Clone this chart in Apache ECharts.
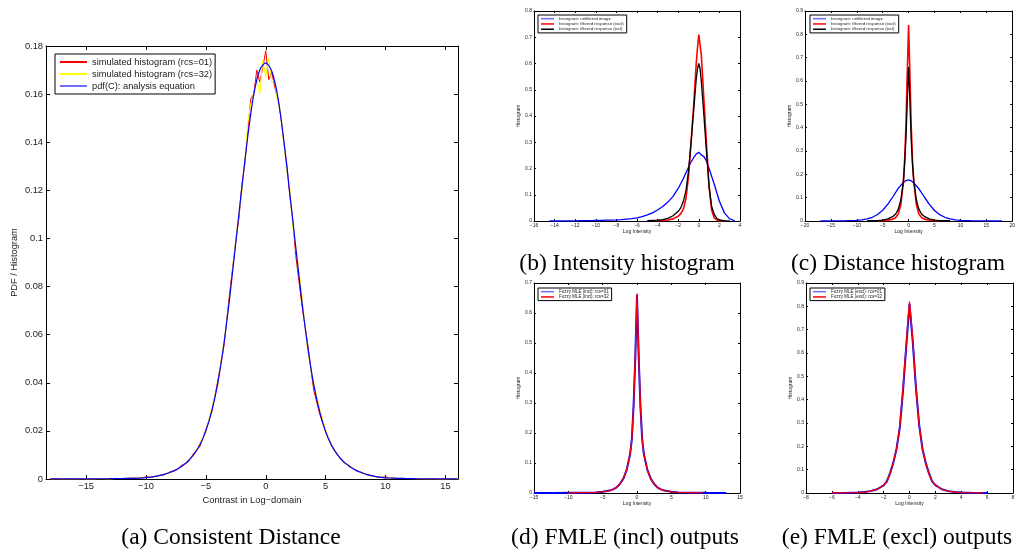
<!DOCTYPE html>
<html><head><meta charset="utf-8">
<script src="https://cdn.jsdelivr.net/npm/echarts@6/dist/echarts.min.js"></script>
<style>html,body{margin:0;padding:0;background:#fff}#c{width:1018px;height:552px}</style>
</head><body><div id="c"></div><script>
// ---------- (a) Consistent Distance ----------
const xA_hist = [-18,-17.5,-17,-16.5,-16,-15.5,-15,-14.5,-14,-13.5,-13,-12.5,-12,-11.5,-11,-10.5,-10,-9.5,-9,-8.5,-8,-7.5,-7,-6.5,-6,-5.5,-5,-4.5,-4,-3.5,-3,-2.5,
-2.25,-2,-1.75,-1.5,-1.25,-1,-0.75,-0.5,-0.25,0,0.25,0.5,0.75,1,1.25,1.5,1.75,2,2.25,
2.5,3,3.5,4,4.5,5,5.5,6,6.5,7,7.5,8,8.5,9,9.5,10,10.5,11,11.5,12,12.5,13,13.5,14,14.5,15,15.5,16];
const yA_rcs01 = [0,0,0,0.0001,0,0,0.0001,0,0.0002,0,0.0001,0.0002,
0.0001,0.0003,0.0004,0.0003,0.0009,0.0008,0.0014,0.0017,0.0030,0.0036,0.0058,0.0070,0.0108,0.0135,0.0205,0.0280,0.0410,0.0550,0.0780,0.0990,
0.108,0.122,0.131,0.145,0.158,0.160,0.170,0.165,0.171,0.178,0.166,0.169,0.163,0.158,0.151,0.140,0.131,0.118,0.108,
0.093,0.073,0.056,0.037,0.027,0.0195,0.0135,0.0098,0.0068,0.0055,0.0035,0.0028,0.0016,0.0012,0.0006,0.0009,0.0003,0.0002,0.0003,0.0001,0.0002,0,0.0001,0,0,0.0001,0,0];
const yA_rcs32 = [0,0.0001,0,0,0,0.0001,0,0,0.0001,0.0001,0,0.0002,
0.0002,0.0002,0.0003,0.0005,0.0006,0.0010,0.0012,0.0020,0.0025,0.0040,0.0050,0.0078,0.0098,0.0150,0.0195,0.0300,0.0390,0.0570,0.0750,0.1000,
0.110,0.119,0.133,0.148,0.156,0.160,0.166,0.160,0.174,0.167,0.175,0.165,0.166,0.156,0.153,0.140,0.128,0.121,0.105,
0.097,0.077,0.053,0.040,0.029,0.0205,0.0140,0.0102,0.0070,0.0050,0.0039,0.0024,0.0019,0.0011,0.0009,0.0004,0.0005,0.0002,0.0002,0.0002,0.0001,0.0001,0,0.0001,0,0,0.0001,0];
const xA_pdf = [-18,-17.5,-17,-16.5,-16,-15.5,-15,-14.5,-14,-13.5,-13,-12.5,-12,-11.5,-11,-10.5,-10,-9.5,-9,-8.5,-8,-7.5,-7,-6.5,-6,-5.5,-5,-4.5,-4,-3.5,-3,-2.5,-2,-1.5,-1,-0.5,0,0.5,1,1.5,2,2.5,3,3.5,4,4.5,5,5.5,6,6.5,7,7.5,8,8.5,9,9.5,10,10.5,11,11.5,12,12.5,13,13.5,14,14.5,15,15.5,16];
const yA_pdf = [0.00003,0.00003,0.00004,0.00004,0.00005,0.00006,0.00007,0.00008,0.0001,0.0001,0.00012,0.00015,
0.0002,0.00025,0.0003,0.0004,0.0006,0.0009,0.0013,0.0019,0.0027,0.0038,0.0053,0.0074,0.0102,0.0142,0.0200,0.0285,0.0400,0.0560,0.0760,0.0985,0.1210,0.1425,0.1600,0.1700,0.1730,
0.1695,0.1590,0.1410,0.1190,0.0965,0.0745,0.0550,0.0393,0.0280,0.0197,0.0140,0.0100,0.0072,0.0052,0.0037,0.0026,0.0018,0.0012,0.0008,0.0005,0.0004,0.0003,0.00022,0.00016,0.00012,0.0001,0.00008,0.00006,0.00005,0.00004,0.00003,0.00003];
const ticksA_x = [-15,-10,-5,0,5,10,15];
const namesA = ['simulated histogram (rcs=01)','simulated histogram (rcs=32)','pdf(C): analysis equation'];

// ---------- (b) Intensity histogram ----------
const xB_unf = [-14.5,-14,-13.5,-13,-12.5,-12,-11.5,-11,-10.5,-10,-9.5,-9,-8.5,-8,-7.5,-7,-6.5,-6,-5.5,-5,-4.5,-4,-3.5,-3,-2.5,-2,-1.5,-1,-0.75,-0.5,-0.25,0,0.25,0.5,0.75,1,1.5,2,2.5,3,3.5];
const yB_unf = [0,0,0,0.0005,0,0.0005,0.001,0.001,0.0015,0.002,0.002,0.003,0.0035,0.004,0.005,0.007,0.009,0.012,0.017,0.023,0.031,0.042,0.055,0.072,0.094,0.124,0.162,0.205,0.225,0.241,0.255,0.262,0.252,0.245,0.228,0.200,0.140,0.075,0.030,0.008,0.001];
const xB_excl = [-4,-3.5,-3,-2.5,-2,-1.75,-1.5,-1.25,-1,-0.75,-0.5,-0.25,-0.125,0,0.125,0.25,0.5,0.75,1,1.25,1.5,1.75,2,2.5];
const yB_excl = [0.001,0.002,0.004,0.008,0.018,0.028,0.045,0.085,0.17,0.30,0.44,0.60,0.66,0.71,0.67,0.63,0.46,0.29,0.13,0.04,0.012,0.004,0.001,0];
const xB_incl = [-5,-4.5,-4,-3.5,-3,-2.5,-2,-1.75,-1.5,-1.25,-1,-0.75,-0.5,-0.25,-0.125,0,0.125,0.25,0.5,0.75,1,1.25,1.5,1.75,2,2.5,3];
const yB_incl = [0.001,0.002,0.003,0.005,0.01,0.02,0.037,0.05,0.075,0.115,0.19,0.30,0.42,0.54,0.58,0.60,0.58,0.53,0.40,0.26,0.13,0.055,0.025,0.01,0.004,0.001,0];
const namesBC = ['histogram: unfiltered image','histogram: filtered response (excl)','histogram: filtered response (incl)'];

// ---------- (c) Distance histogram ----------
const xC_unf = [-17,-16,-15,-14,-13,-12,-11,-10,-9,-8,-7,-6,-5,-4,-3,-2,-1,-0.5,0,0.5,1,2,3,4,5,6,7,8,9,10,11,12,13,14,15,16,17,18];
const yC_unf = [0,0.0001,0.0002,0.0004,0.0006,0.001,0.0017,0.003,0.005,0.009,0.016,0.028,0.046,0.072,0.105,0.140,0.166,0.173,0.176,0.172,0.163,0.138,0.104,0.071,0.045,0.027,0.016,0.009,0.005,0.003,0.0017,0.001,0.0006,0.0004,0.0002,0.0001,0,0];
const xC_excl = [-6,-5,-4,-3,-2.5,-2,-1.5,-1,-0.75,-0.5,-0.25,0,0.25,0.5,0.75,1,1.5,2,2.5,3,4,5,6];
const yC_excl = [0,0.001,0.003,0.008,0.015,0.03,0.07,0.17,0.27,0.42,0.64,0.84,0.63,0.41,0.26,0.17,0.07,0.03,0.015,0.008,0.003,0.001,0];
const xC_incl = [-8,-7,-6,-5,-4,-3,-2.5,-2,-1.5,-1,-0.75,-0.5,-0.25,0,0.25,0.5,0.75,1,1.5,2,2.5,3,4,5,6,7,8];
const yC_incl = [0.001,0.0015,0.002,0.004,0.009,0.02,0.03,0.05,0.09,0.17,0.25,0.36,0.52,0.66,0.51,0.35,0.24,0.17,0.09,0.05,0.03,0.02,0.009,0.004,0.002,0.0015,0.001];

// ---------- (d) FMLE (incl) outputs ----------
const xD_01 = [-15,-12,-10,-8,-6,-5,-4,-3.5,-3,-2.5,-2,-1.5,-1,-0.75,-0.5,-0.25,0,0.25,0.5,0.75,1,1.5,2,2.5,3,3.5,4,5,6,8,10,13];
const yD_01 = [0,0,0.0005,0.001,0.002,0.004,0.008,0.012,0.018,0.03,0.047,0.077,0.13,0.18,0.29,0.45,0.66,0.45,0.29,0.18,0.13,0.078,0.048,0.03,0.018,0.012,0.008,0.004,0.002,0.001,0.0005,0];
const xD_32 = [-10,-8,-6,-5,-4,-3.5,-3,-2.5,-2,-1.5,-1,-0.75,-0.5,-0.25,0,0.25,0.5,0.75,1,1.5,2,2.5,3,3.5,4,5,6,8,9.5];
const yD_32 = [0,0.001,0.002,0.004,0.008,0.012,0.019,0.03,0.048,0.078,0.13,0.18,0.29,0.46,0.665,0.46,0.29,0.18,0.13,0.077,0.047,0.03,0.018,0.012,0.008,0.004,0.002,0.001,0];
const namesD = ['Fuzzy MLE (incl): rcs=01','Fuzzy MLE (incl): rcs=32'];

// ---------- (e) FMLE (excl) outputs ----------
const xE_01 = [-6,-5,-4,-3.5,-3,-2.5,-2,-1.75,-1.5,-1.25,-1,-0.75,-0.5,-0.25,0,0.25,0.5,0.75,1,1.25,1.5,1.75,2,2.5,3,3.5,4,5,6];
const yE_01 = [0,0.0005,0.002,0.004,0.008,0.016,0.033,0.05,0.085,0.13,0.19,0.28,0.44,0.63,0.81,0.65,0.45,0.29,0.19,0.13,0.085,0.05,0.034,0.016,0.008,0.004,0.002,0.0005,0];
const xE_32 = [-6,-5,-4,-3.5,-3,-2.5,-2,-1.75,-1.5,-1.25,-1,-0.75,-0.5,-0.25,0,0.25,0.5,0.75,1,1.25,1.5,1.75,2,2.5,3,3.5,4,5,5.7];
const yE_32 = [0,0.0005,0.002,0.004,0.008,0.017,0.032,0.048,0.083,0.13,0.19,0.285,0.45,0.64,0.82,0.66,0.45,0.29,0.19,0.13,0.083,0.05,0.033,0.016,0.008,0.004,0.002,0.0005,0];
const namesE = ['Fuzzy MLE (excl): rcs=01','Fuzzy MLE (excl): rcs=32'];

const captions = ['(a) Consistent Distance','(b) Intensity histogram','(c) Distance histogram','(d) FMLE (incl) outputs','(e) FMLE (excl) outputs'];

// ---------- build ----------
const SANS = 'Liberation Sans', SERIF = 'Liberation Serif';
const grids = [
  {left:46, top:46, width:412, height:433},
  {left:534, top:11, width:206, height:210},
  {left:805, top:11, width:208, height:210},
  {left:534, top:283, width:206, height:210},
  {left:806, top:283, width:207, height:210}
];
function fmt(v){ const s = String(parseFloat(Number(v).toFixed(4))); return s.replace('-', '\u2212'); }
const xAxis = [], yAxis = [];
function addAxes(g, o){
  const tick = {show:true, inside:true, length:o.tick, lineStyle:{color:'#000', width:1}};
  const line = {show:true, onZero:false, lineStyle:{color:'#000', width:1}};
  const lbl = {show:true, fontSize:o.fs, fontFamily:SANS, color:'#222', margin:o.margin, formatter:fmt, showMinLabel:true, showMaxLabel:true};
  const nts = {fontSize:o.fs, fontFamily:SANS, color:'#222'};
  const bx = {type:'value', gridIndex:g, position:'bottom', min:o.xmin, max:o.xmax, splitLine:{show:false},
    axisLine:line, axisTick:Object.assign({}, tick), axisLabel:Object.assign({}, lbl),
    name:'Log Intensity', nameLocation:'middle', nameGap:o.xGap, nameTextStyle:nts};
  const tx = {type:'value', gridIndex:g, position:'top', min:o.xmin, max:o.xmax, splitLine:{show:false},
    axisLine:line, axisTick:Object.assign({}, tick), axisLabel:{show:false}};
  if (o.xint) { bx.interval = o.xint; tx.interval = o.xint; }
  if (o.xcustom) { bx.axisTick.customValues = o.xcustom; bx.axisLabel.customValues = o.xcustom; tx.axisTick.customValues = o.xcustom; }
  if (o.xname) bx.name = o.xname;
  const ly = {type:'value', gridIndex:g, position:'left', min:0, max:o.ymax, interval:o.yint, splitLine:{show:false},
    axisLine:line, axisTick:tick, axisLabel:lbl,
    name:o.yname || 'Histogram', nameLocation:'middle', nameRotate:90, nameGap:o.yGap, nameTextStyle:nts};
  const ry = {type:'value', gridIndex:g, position:'right', min:0, max:o.ymax, interval:o.yint, splitLine:{show:false},
    axisLine:line, axisTick:tick, axisLabel:{show:false}};
  xAxis.push(bx, tx); yAxis.push(ly, ry);
}
addAxes(0, {xmin:-18.35, xmax:16.05, xcustom:ticksA_x, ymax:0.18, yint:0.02, fs:9.3, tick:4, margin:3, xGap:14, yGap:27, xname:'Contrast in Log\u2212domain', yname:'PDF / Histogram'});
addAxes(1, {xmin:-16, xmax:4, xint:2, ymax:0.8, yint:0.1, fs:5, tick:2, margin:2, xGap:7, yGap:11});
addAxes(2, {xmin:-20, xmax:20, xint:5, ymax:0.9, yint:0.1, fs:5, tick:2, margin:2, xGap:7, yGap:11});
addAxes(3, {xmin:-15, xmax:15, xint:5, ymax:0.7, yint:0.1, fs:5, tick:2, margin:2, xGap:7, yGap:11});
addAxes(4, {xmin:-8, xmax:8, xint:2, ymax:0.9, yint:0.1, fs:5, tick:2, margin:2, xGap:7, yGap:11});

function ln(g, name, xs, ys, color, width, z, smooth){
  return {type:'line', name, xAxisIndex:2*g, yAxisIndex:2*g, data:xs.map((x,i)=>[x, ys[i]]),
    showSymbol:false, symbol:'none', smooth:smooth||false, lineStyle:{color, width}, itemStyle:{color}, z, silent:true};
}
const series = [
  ln(0, namesA[0], xA_hist, yA_rcs01, '#ff0000', 1, 2),
  ln(0, namesA[1], xA_hist, yA_rcs32, '#ffff00', 1, 3),
  ln(0, namesA[2], xA_pdf, yA_pdf, '#0000ff', 1.2, 4, 0.3),
  ln(1, namesBC[0], xB_unf, yB_unf, '#0000ff', 1.3, 2),
  ln(1, namesBC[1], xB_excl, yB_excl, '#ff0000', 1.6, 3),
  ln(1, namesBC[2], xB_incl, yB_incl, '#000000', 1.3, 4),
  ln(2, namesBC[0], xC_unf, yC_unf, '#0000ff', 1.3, 2),
  ln(2, namesBC[1], xC_excl, yC_excl, '#ff0000', 1.6, 3),
  ln(2, namesBC[2], xC_incl, yC_incl, '#000000', 1.3, 4),
  ln(3, namesD[0], xD_01, yD_01, '#0000ff', 2, 2),
  ln(3, namesD[1], xD_32, yD_32, '#ff0000', 1.3, 3),
  ln(4, namesE[0], xE_01, yE_01, '#0000ff', 2, 2),
  ln(4, namesE[1], xE_32, yE_32, '#ff0000', 1.3, 3)
];

function legendBox(names, left, top, o){
  return {show:true, orient:'vertical', left, top, data:names.map((n,i)=>{
      const d = {name:n};
      if (o.blue === i) d.itemStyle = {color:'#6f6fff'};
      return d; }),
    icon:'rect', itemWidth:o.iw, itemHeight:o.ih, itemGap:0, itemTextGap:o.tg,
    padding:o.pad, borderColor:'#000', borderWidth:1, backgroundColor:'#fff',
    textStyle:{fontSize:o.fs, fontFamily:SANS, color:'#222', lineHeight:o.lh}, selectedMode:false, z:10};
}
const legend = [
  legendBox(namesA, 55, 54, {iw:27, ih:2, tg:4, pad:[2,3,2,5], fs:9.3, lh:12, blue:2}),
  legendBox(namesBC, 538, 15, {iw:13, ih:1.5, tg:2, pad:[1,3,1,3], fs:4.3, lh:5.3, blue:0}),
  legendBox(namesBC, 810, 15, {iw:13, ih:1.5, tg:2, pad:[1,3,1,3], fs:4.3, lh:5.3, blue:0}),
  legendBox(namesD, 538, 288, {iw:13, ih:1.5, tg:2, pad:[1,3,1,3], fs:4.5, lh:5.3, blue:0}),
  legendBox(namesE, 810, 288, {iw:13, ih:1.5, tg:2, pad:[1,3,1,3], fs:4.5, lh:5.3, blue:0})
];

const capPos = [[231,538],[627,264],[898,264],[625,538],[897,538]];
const graphic = captions.map((t,i)=>({type:'text', x:capPos[i][0], y:capPos[i][1], silent:true,
  style:{text:t, fill:'#000', font:'23.5px "' + SERIF + '"', align:'center', verticalAlign:'middle'}}));

const chart = echarts.init(document.getElementById('c'), null, {renderer:'canvas'});
chart.setOption({animation:false, backgroundColor:'#fff', grid:grids, xAxis, yAxis, series, legend, graphic, tooltip:{show:false}});
</script></body></html>
